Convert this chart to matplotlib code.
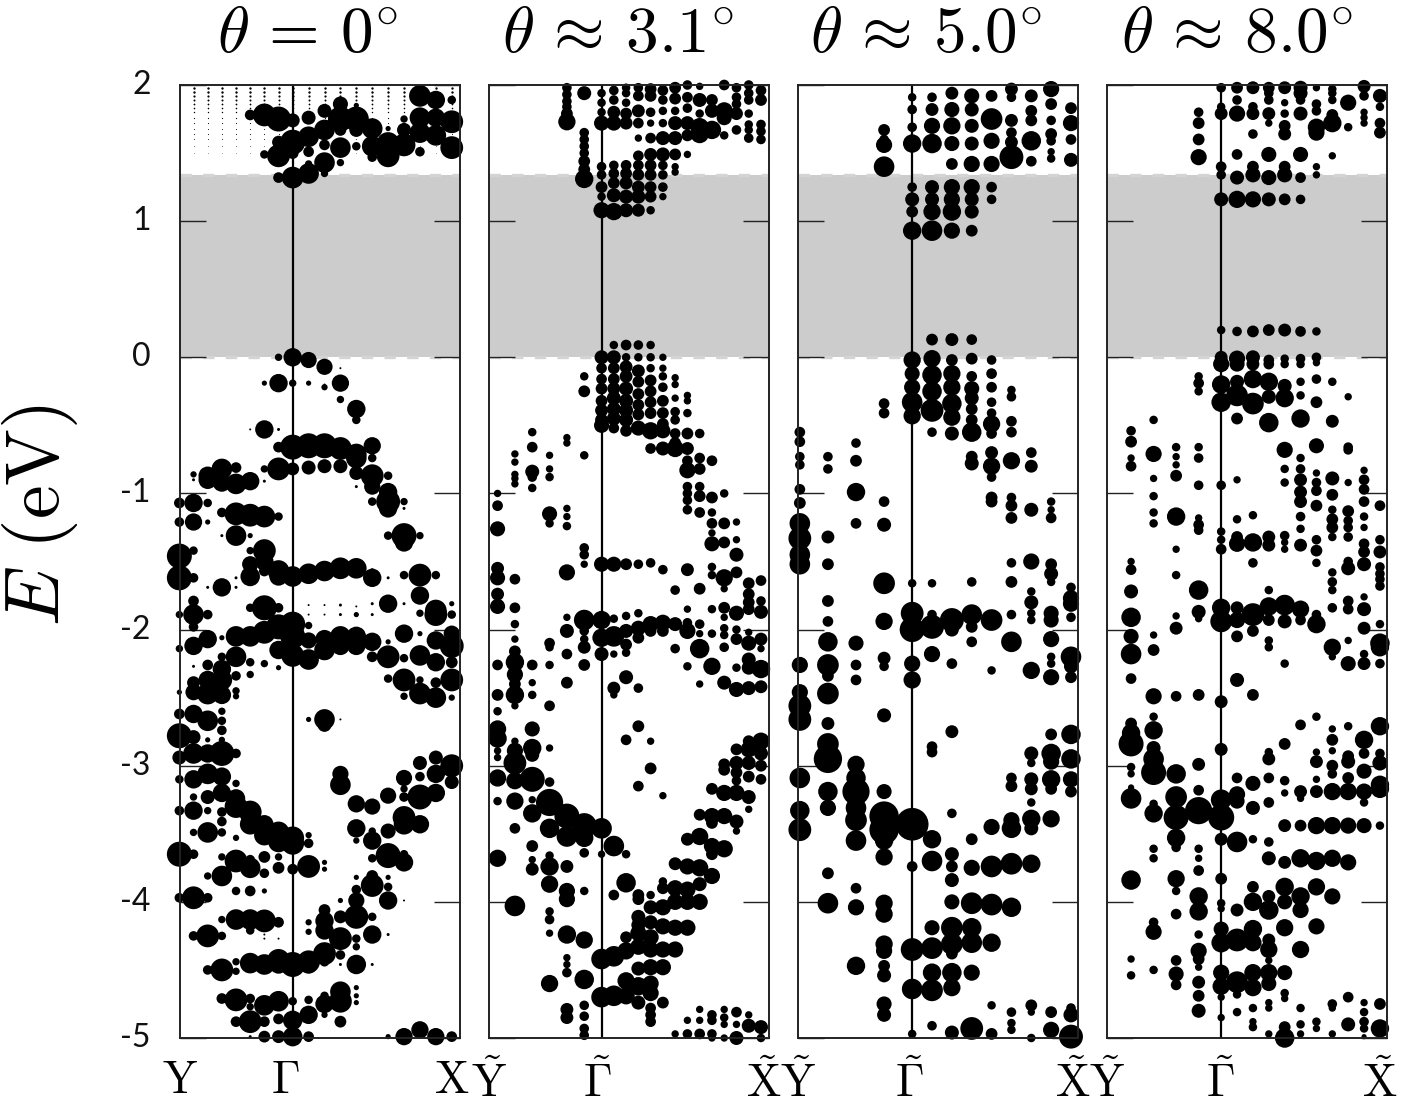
import numpy as np
import matplotlib
matplotlib.use("Agg")
import matplotlib.pyplot as plt

plt.rcParams['mathtext.fontset'] = 'cm'
plt.rcParams['font.family'] = ['Lato', 'DejaVu Sans']

# Each dot: k-point column, energy in eV, weight (dot radius)
panel1 = [
 (-3,1.78,4.5),(-2,1.78,10),(-1,1.75,11),(0,1.74,6),(-1,1.48,10),(-2,1.49,3.5),(-1,1.58,5.5),(0,1.58,11),(0,1.5,5),
 (1,1.62,9),(1,1.76,6),(1,1.51,4.5),(2,1.67,9),(2,1.81,6),(2,1.56,4.5),(3,1.86,6.5),(3,1.75,11),(3,1.54,9),(3,1.67,5),(3,1.43,3),
 (4,1.75,11),(4,1.55,3.5),(4,1.85,2),(4,1.67,6),(5,1.68,9),(5,1.55,9),(5,1.47,4),(6,1.57,10),(6,1.48,10),(6,1.68,2),
 (7,1.56,10),(7,1.75,3),(7,1.67,6),(8,1.92,9.5),(8,1.76,9),(8,1.65,9),(8,1.51,4),(9,1.89,8),(9,1.76,8),(9,1.63,9),
 (10,1.89,3.5),(10,1.73,10),(10,1.54,10),
 (-1,1.32,4.5),(0,1.32,9.5),(1,1.35,9),(1,1.42,3),(2,1.43,9),(2,1.35,3),
 (-1,0.0,3),(0,0.0,8),(1,-0.02,7),(2,-0.07,7),(3,-0.08,1),(-1,-0.19,8),(-2,-0.19,2),(0,-0.19,3),(1,-0.19,2),(2,-0.22,2.5),(2,-0.2,1),
 (3,-0.19,7.5),(3,-0.31,3),(4,-0.38,8),(4,-0.46,3.5),(-2,-0.53,8),(-1,-0.53,1.5),(-3,-0.53,1),
 (-1,-0.66,4.5),(0,-0.66,11),(1,-0.65,11),(2,-0.65,11),(3,-0.67,10),(4,-0.71,9),(4,-0.74,9),(5,-0.65,7.5),(5,-0.74,3.5),
 (-2,-0.82,3),(-1,-0.82,10),(0,-0.82,5.5),(1,-0.81,6),(2,-0.8,6),(3,-0.8,6),(4,-0.85,6),(4,-0.95,1.5),(5,-0.87,10),(5,-0.95,7),
 (6,-0.87,3.5),(6,-0.99,8),(6,-1.06,10.5),(6,-1.11,8),(5,-1.06,3.5),(7,-1.06,3),(7,-1.11,1.5),
 (-7,-0.86,2.5),(-7,-0.9,1.5),(-6,-0.87,8),(-6,-0.9,8),(-5,-0.82,9),(-5,-0.92,8),(-4,-0.81,4.5),(-4,-0.93,9),(-3,-0.91,8),(-2,-0.91,1.5),
 (-8,-1.07,4.5),(-7,-1.07,8),(-6,-1.07,3.5),(-8,-1.21,4),(-7,-1.21,7.5),(-6,-1.21,2),(-5,-1.14,4),(-4,-1.15,10),(-3,-1.16,10),(-2,-1.17,9.5),(-1,-1.17,3.5),
 (-4,-1.31,9),(-3,-1.31,2),(-5,-1.31,1.5),(6,-1.31,3.5),(7,-1.31,11),(7,-1.36,8),(8,-1.31,3),
 (-8,-1.62,11),(-8,-1.46,11),(-7,-1.62,4),(-7,-1.42,3.5),(-6,-1.69,1.5),(-5,-1.69,8),(-4,-1.62,1.5),(-4,-1.69,1.5),(-3,-1.61,8.5),(-3,-1.52,7),(-3,-1.42,3),
 (-2,-1.57,4.5),(-2,-1.5,8),(-2,-1.42,10),(-1,-1.57,9.5),(-1,-1.61,8),(0,-1.61,9),(1,-1.59,9),(2,-1.57,9),(3,-1.55,9.5),(4,-1.55,9),(5,-1.62,8),(6,-1.62,1.5),(5,-1.56,1.5),
 (6,-1.81,8),(5,-1.81,1.5),(7,-1.6,3.5),(7,-1.81,1.5),(8,-1.6,10),(8,-1.75,8),(9,-1.6,3.5),(9,-1.86,9.5),(9,-1.89,10),(10,-1.89,3.5),(10,-1.81,2),(8,-1.88,3),
 (-8,-1.89,3),(-7,-1.89,9),(-7,-1.79,4.5),(-6,-1.89,4),(-7,-1.98,4),(-3,-1.84,3.5),(-2,-1.84,11),(-1,-1.84,4),
 (1,-1.82,1),(2,-1.82,1),(3,-1.82,1.5),(4,-1.83,1),(5,-1.81,1),(3,-1.89,1.5),(4,-1.89,2),(5,-1.89,1.5),(2,-1.89,1),(1,-1.89,1),
 (-8,-2.14,3),(-7,-2.12,8),(-6,-2.07,8),(-5,-2.06,2),(-4,-2.05,9),(-3,-2.05,9),(-2,-2.02,10),(-1,-1.98,11),(0,-1.96,11),(0,-2.05,11),(-1,-2.15,8),(0,-2.19,10),
 (1,-1.97,3),(1,-2.08,7),(1,-2.22,9),(2,-2.07,8),(2,-2.15,9),(3,-2.05,9),(3,-2.12,8),(4,-2.05,8.5),(4,-2.12,8),(5,-2.09,8),(5,-2.2,4.5),(6,-2.2,10),(6,-2.09,2),
 (7,-2.03,8),(7,-2.21,3.5),(8,-2.03,2),(8,-2.19,9),(9,-2.08,8),(9,-2.24,8),(10,-2.12,10.5),(10,-2.03,7),(10,-2.24,5),(10,-2.37,10),(10,-2.5,2.5),
 (7,-2.37,10),(6,-2.36,3.5),(7,-2.49,3),(8,-2.47,9.5),(8,-2.37,3),(9,-2.5,9),(9,-2.39,4.5),
 (-6,-2.26,4.5),(-5,-2.2,3.5),(-5,-2.29,8),(-4,-2.2,9),(-4,-2.34,4),(-3,-2.24,3.5),(-3,-2.33,3),(-2,-2.25,3),(-1,-2.28,2),(-7,-2.27,1.5),(-5,-2.37,9),
 (-7,-2.39,5.5),(-7,-2.46,7),(-6,-2.37,8),(-6,-2.47,9.5),(-5,-2.48,8),(-4,-2.45,3),(-4,-2.49,2.5),(-8,-2.46,2),
 (-8,-2.62,4.5),(-7,-2.62,8),(-6,-2.67,9),(-5,-2.6,3),(-5,-2.67,3.5),(-5,-2.74,4),(-8,-2.78,11),(-7,-2.79,6),(-6,-2.81,2),(-5,-2.81,2.5),(-8,-2.94,6),(-7,-2.91,9),(-6,-2.91,8),(-5,-2.91,11),(-4,-2.91,4),
 (2,-2.66,9),(2,-2.7,6),(1,-2.66,2),(3,-2.66,1),
 (-8,-3.1,3.5),(-7,-3.1,8),(-6,-3.06,9),(-5,-3.08,8),(-6,-3.23,6),(-5,-3.2,8),(-4,-3.13,3),(-4,-3.24,8),(-4,-3.3,10),(-3,-3.34,10),(-3,-3.43,9),(-2,-3.43,8),(-2,-3.51,9),
 (-1,-3.49,9.5),(-1,-3.56,9),(0,-3.53,10),(0,-3.57,10),(-5,-3.34,4),(-5,-3.41,4),(-6,-3.33,3),(-7,-3.33,8),(-8,-3.33,4),(-7,-3.23,3),
 (-7,-3.49,3),(-6,-3.49,9),(-5,-3.49,3.5),(-4,-3.53,2.5),(-8,-3.65,11),(-7,-3.65,4),(-5,-3.67,3),(-4,-3.7,10),(-3,-3.75,9),(-3,-3.69,4),(-2,-3.67,5),(-2,-3.79,4),
 (-1,-3.67,3),(-1,-3.75,5),(0,-3.76,4.5),(1,-3.51,2.5),(1,-3.57,4),(1,-3.74,10),(2,-3.71,2),(2,-3.76,2),(-5,-3.81,9),(-6,-3.81,3),(-4,-3.92,3.5),(-3,-3.92,4.5),(-2,-3.92,2),
 (-8,-3.97,4),(-7,-3.97,10),(-6,-3.97,4),
 (3,-3.14,9),(3,-3.06,7),(4,-3.28,7.5),(5,-3.3,7),(6,-3.22,7),(7,-3.09,7),(8,-2.98,6),(9,-2.94,6),(10,-3.0,10),(10,-3.12,6),(9,-3.06,8),(9,-3.2,8),(8,-3.23,11),(8,-3.08,4),(7,-3.17,3),(7,-3.23,4),
 (7,-3.38,10),(8,-3.43,8),(6,-3.48,6.5),(7,-3.43,9),(4,-3.46,8),(4,-3.55,2.5),(5,-3.55,8),(5,-3.48,3),(5,-3.68,3.5),(6,-3.66,11),(7,-3.65,3.5),(7,-3.71,8),
 (5,-3.88,10),(5,-3.81,5),(4,-3.91,4),(4,-3.82,2),(6,-3.89,3.5),(6,-3.82,2),(6,-3.99,8),(4,-3.99,7),(3,-3.99,2),(7,-3.99,1),
 (-5,-4.13,3),(-4,-4.13,9),(-3,-4.13,9),(-2,-4.14,10),(-1,-4.15,4.5),(-3,-4.21,3.5),(1,-4.15,2.5),(1,-4.22,2.5),(2,-4.06,5),(2,-4.14,8),(2,-4.21,8),(3,-4.11,5.5),(3,-4.27,10),
 (4,-4.11,10.5),(4,-4.27,3.5),(4,-4.33,3),(5,-4.11,3.5),(5,-4.24,8),(6,-4.24,1.5),(-7,-4.25,4),(-6,-4.25,10),(-5,-4.25,3.5),(-2,-4.24,1),(-2,-4.27,1),(-1,-4.27,1),
 (-6,-4.5,4),(-5,-4.5,10),(-4,-4.44,3),(-4,-4.51,3),(-3,-4.45,9),(-2,-4.46,9),(-1,-4.43,10),(-1,-4.46,8),(0,-4.46,11),(1,-4.44,10),(1,-4.46,8),(2,-4.38,10),(2,-4.44,4),(3,-4.39,4),(4,-4.46,8.5),(3,-4.46,1.5),(5,-4.46,1.5),
 (-5,-4.71,4.5),(-4,-4.72,10),(-3,-4.71,4),(-3,-4.77,3),(-2,-4.76,9),(-1,-4.73,9),(0,-4.73,3.5),(1,-4.72,3.5),(1,-4.83,8),(2,-4.75,8),(2,-4.69,3.5),(3,-4.66,9),(3,-4.73,10),(3,-4.88,5),
 (4,-4.63,2),(4,-4.69,2),(4,-4.74,2),(2,-4.83,2.5),
 (-4,-4.88,4.5),(-3,-4.88,10),(-2,-4.88,4.5),(-1,-4.86,4.5),(0,-4.87,8.5),(0,-4.99,8.5),(-1,-4.99,5.5),(-2,-4.99,5),(1,-4.99,4.5),(-3,-4.99,1.5),(6,-4.99,2),(7,-4.99,7.5),(8,-4.94,7.5),(9,-4.99,7.5),(10,-4.99,4.5),
]
panel1_tiny_columns = [-7,-6,-5,-4,-3,-2,-1,0,1,2,3,4,5,6,7,8,9,10]
panel1_tiny_E = [1.98,1.95,1.92,1.89,1.86,1.83,1.8,1.76,1.72,1.68,1.64,1.6,1.55,1.5]
panel1_tiny_r = [1.2,1.2,1.1,1.0,0.9,0.8,0.7,0.6,0.55,0.5,0.45,0.4,0.3,0.25]

panel2 = {
 -6: [(-1.0,3),(-1.09,4.5),(-1.26,6.5),(-1.55,5.5),(-1.62,6.5),(-1.74,5.5),(-1.83,6.5),(-2.26,4.5),(-2.48,5),(-2.6,3.5),(-2.73,7.5),(-2.8,8),(-2.89,3),(-2.94,3),(-3.09,7.5),(-3.26,3.5),(-3.68,7.5)],
 -5: [(-0.71,3),(-0.77,3),(-0.86,3),(-0.89,3),(-0.93,3),(-1.63,4.5),(-1.84,4.5),(-1.96,3.5),(-2.07,3),(-2.16,5),(-2.24,8),(-2.33,7),(-2.4,5),(-2.48,8),(-2.56,3),(-2.82,3),(-2.89,7),(-2.98,10),(-3.11,7.5),(-3.26,7.5),(-3.46,4.5),(-4.03,9)],
 -4: [(-0.55,3.5),(-0.66,4.5),(-0.84,6),(-0.88,4),(-0.96,3.5),(-2.26,4.5),(-2.39,3),(-2.48,3.5),(-2.73,6.5),(-2.87,8),(-2.92,6),(-3.1,11),(-3.25,3),(-3.35,8),(-3.59,5),(-3.69,3),(-3.76,5.5)],
 -3: [(-0.72,3),(-0.82,3),(-0.88,3.5),(-1.15,6.5),(-1.22,3.5),(-2.1,4.5),(-2.13,3.5),(-2.26,3.5),(-2.56,4.5),(-2.87,3),(-3.12,4),(-3.27,12),(-3.46,8.5),(-3.66,3.5),(-3.74,8),(-3.87,7.5),(-4.07,3.5),(-4.13,4),(-4.23,3),(-4.6,7.5)],
 -2: [(1.98,4),(1.93,4),(1.88,4),(1.84,4),(1.79,5),(1.73,7.5),(-0.59,3),(-0.63,3),(-1.11,3),(-1.17,3),(-1.24,3.5),(-1.58,7),(-1.91,3),(-2.01,6),(-2.18,4.5),(-2.39,5),(-3.37,11),(-3.52,9),(-3.74,5.5),(-3.92,7),(-3.98,7),(-4.24,8),(-4.41,3),(-4.46,3),(-4.52,4),(-4.79,5.5),(-4.85,5.5)],
 -1: [(1.94,6),(1.65,4),(1.6,4),(1.55,4),(1.5,4),(1.44,5),(1.38,5),(1.31,8),(-0.14,3.5),(-0.25,5),(-0.72,3.5),(-1.4,4),(-1.45,4),(-1.52,3),(-1.93,9),(-2.01,4),(-2.07,3.5),(-2.13,5.5),(-2.26,5),(-3.44,11),(-3.53,8),(-3.64,4),(-3.92,3.5),(-4.28,7.5),(-4.57,8.5),(-4.76,4),(-4.84,4),(-4.93,4),(-4.98,4)],
 0: [(1.94,3.5),(1.87,3.5),(1.8,3.5),(1.72,6.5),(1.4,4),(1.34,4),(1.25,5),(1.18,3.5),(1.08,7),(0,6),(-0.08,4.5),(-0.16,4.5),(-0.23,5),(-0.32,5),(-0.39,5.5),(-0.46,5.5),(-0.5,6.5),(-1.52,6.5),(-1.93,8),(-2.06,8),(-2.18,6),(-3.46,9),(-3.65,3),(-4.42,9),(-4.7,9)],
 1: [(1.96,4),(1.89,4),(1.8,5.5),(1.72,6.5),(1.41,4),(1.35,4.5),(1.28,5),(1.19,6),(1.07,7.5),(0.09,3.5),(0,6),(-0.08,5),(-0.16,5),(-0.23,5.5),(-0.3,6),(-0.38,6),(-0.45,6),(-0.52,4.5),(-1.52,6.5),(-1.92,3.5),(-2.05,9),(-2.18,3),(-2.43,5.5),(-2.48,3),(-3.59,9),(-3.95,4.5),(-4.4,9),(-4.69,9)],
 2: [(1.98,3.5),(1.94,3.5),(1.87,3.5),(1.79,5),(1.72,5.5),(1.41,4.5),(1.35,5),(1.28,5.5),(1.18,6),(1.08,6),(0.09,4.5),(0,3.5),(-0.07,5.5),(-0.14,5.5),(-0.23,6),(-0.32,6),(-0.39,6),(-0.46,6),(-0.54,5),(-1.52,5),(-1.9,3.5),(-2.01,6),(-2.11,5),(-2.17,3.5),(-2.35,6),(-2.81,4.5),(-3.65,3.5),(-3.86,8.5),(-4.26,5),(-4.36,7.5),(-4.58,7.5),(-4.69,7.5)],
 3: [(1.98,4),(1.92,4.5),(1.81,5.5),(1.72,4.5),(1.61,3),(1.48,4.5),(1.41,4.5),(1.34,5),(1.25,5.5),(1.18,6),(1.08,5.5),(0.09,4),(0,3.5),(-0.1,5.5),(-0.18,5),(-0.27,5),(-0.35,5),(-0.42,5),(-0.52,6.5),(-1.52,4),(-1.88,3.5),(-1.99,6.5),(-2.06,5),(-2.43,4),(-2.71,5),(-3.15,4.5),(-3.95,5),(-3.98,5),(-4.11,6),(-4.17,6),(-4.23,7),(-4.33,7),(-4.49,6),(-4.62,8),(-4.74,6)],
 4: [(1.97,5),(1.92,5),(1.8,4),(1.72,3),(1.61,4.5),(1.49,5.5),(1.41,5),(1.34,5),(1.25,5),(1.18,5),(1.08,3.5),(0.09,3.5),(0,3.5),(-0.08,3.5),(-0.17,5),(-0.25,5),(-0.33,5),(-0.41,5),(-0.54,7.5),(-0.67,4.5),(-1.51,4),(-1.96,7),(-2.01,5),(-2.82,3),(-3.02,5),(-3.95,3.5),(-4.04,6),(-4.15,6),(-4.26,7),(-4.35,7),(-4.48,7),(-4.6,7),(-4.67,7),(-4.78,4.5),(-4.83,4.5),(-4.88,4.5)],
 5: [(1.96,4.5),(1.89,4),(1.81,3.5),(1.72,3.5),(1.61,6),(1.49,6),(1.41,4),(1.34,4),(1.25,4),(1.18,3),(0,3),(-0.08,3),(-0.14,3.5),(-0.22,4),(-0.32,5),(-0.41,5),(-0.49,5),(-0.54,6.5),(-0.67,6),(-1.56,4),(-1.95,7),(-2.01,5),(-3.22,3),(-3.85,3.5),(-3.9,5),(-4.04,7),(-4.18,7),(-4.35,7),(-4.48,7),(-4.74,5)],
 6: [(1.98,5),(1.9,5),(1.81,3.5),(1.72,6),(1.61,6),(1.49,5),(1.4,3),(1.36,3),(-0.15,3),(-0.2,3),(-0.3,3),(-0.4,4),(-0.46,4),(-0.56,4.5),(-0.63,5),(-0.67,7.5),(-1.71,4),(-1.96,6),(-2.14,4),(-3.72,5.5),(-3.9,7),(-4,7),(-4.19,7),(-4.35,7),(-4.97,3)],
 7: [(2.0,4),(1.91,4.5),(1.83,4),(1.72,6),(1.63,5),(1.49,3),(-0.28,3),(-0.32,3),(-0.41,3.5),(-0.56,5),(-0.67,5.5),(-0.76,4.5),(-0.83,7),(-0.95,4),(-1.0,4),(-1.05,4),(-1.12,4),(-1.56,5.5),(-1.85,3),(-1.95,4),(-2.01,7),(-2.27,3.5),(-3.54,5.5),(-3.74,7),(-3.91,7),(-4,7),(-4.19,7),(-4.87,3),(-4.97,4)],
 8: [(1.99,3),(1.89,6),(1.79,3.5),(1.69,8),(1.64,8),(-0.56,4),(-0.74,4.5),(-0.82,5),(-0.95,4),(-1.02,5),(-1.14,4.5),(-1.7,5),(-1.96,4),(-2.03,3),(-2.14,8.5),(-2.4,3),(-3.36,5),(-3.52,7.5),(-3.75,7.5),(-3.87,6),(-4,7),(-4.79,3),(-4.87,3),(-4.97,4.5)],
 9: [(1.89,5),(1.81,6),(1.67,8),(-0.76,4.5),(-1.03,5),(-1.14,3.5),(-1.22,4.5),(-1.37,6.5),(-1.29,3),(-1.54,3.5),(-1.6,3.5),(-1.85,3.5),(-2.03,3.5),(-2.27,7.5),(-3.17,5),(-3.37,7),(-3.42,5),(-3.59,7),(-3.65,5),(-3.81,7),(-4.83,4),(-4.87,4),(-4.97,4),(-5,3)],
 10: [(2.0,4.5),(1.81,7.5),(1.76,6.5),(1.63,3.5),(-1.0,3.5),(-1.22,5),(-1.36,5),(-1.62,7.5),(-1.7,3),(-1.84,5),(-1.91,3),(-1.99,3.5),(-2.04,3.5),(-2.13,4),(-2.39,6),(-2.99,5),(-3.03,5),(-3.2,7),(-3.37,7),(-3.61,7.5),(-4.79,3),(-4.85,3.5),(-4.9,3),(-5,3)],
 11: [(1.98,4),(1.91,4),(1.86,4),(1.79,5.5),(1.67,4),(-1.21,3),(-1.34,3),(-1.45,6),(-1.58,5),(-1.88,6.5),(-2.0,3.5),(-2.07,5),(-2.28,3.5),(-2.44,6.5),(-2.88,5),(-2.98,6),(-3.05,5),(-3.11,4),(-3.2,7),(-3.41,6),(-3.48,3),(-4.81,4.5),(-4.9,3),(-5,6)],
 12: [(2.0,4),(1.94,4),(1.89,4),(1.79,3.5),(1.71,3.5),(1.67,3.5),(1.61,4),(-1.66,5),(-1.74,5),(-1.8,5),(-1.85,5),(-2.02,3),(-2.1,6.5),(-2.22,6),(-2.28,6),(-2.43,6),(-2.82,5),(-2.88,7),(-2.98,6),(-3.08,5),(-3.23,6),(-3.32,3),(-4.83,3),(-4.91,6)],
 13: [(1.96,4.5),(1.89,5),(1.71,4),(1.66,4),(1.6,4),(-1.64,4.5),(-1.79,4),(-1.87,6),(-2.07,5.5),(-2.14,3),(-2.29,8),(-2.42,5.5),(-2.82,7.5),(-2.91,6),(-3.0,5),(-3.1,4.5),(-4.92,6),(-5,3.5)],
}

panel3 = {
 -4: [(-0.55,4.5),(-0.62,4.5),(-0.73,4),(-0.79,4),(-0.97,4.5),(-1.07,5),(-1.22,9),(-1.33,10),(-1.45,9),(-1.52,9),(-2.26,7),(-2.46,7),(-2.56,10),(-2.66,10),(-3.09,9),(-3.33,8.5),(-3.47,10)],
 -3: [(-0.73,4),(-0.82,4),(-1.32,5.5),(-1.52,5),(-1.79,5),(-1.94,4.5),(-2.09,8.5),(-2.26,9.5),(-2.34,5),(-2.47,9.5),(-2.69,5.5),(-2.84,9.5),(-2.95,12.5),(-3.19,8.5),(-3.31,7),(-3.79,5),(-4.01,9)],
 -2: [(-0.63,4),(-0.76,5),(-0.99,8),(-1.22,4.5),(-2.1,6.5),(-2.26,4.5),(-2.37,4.5),(-2.99,7.5),(-3.09,8.5),(-3.19,12),(-3.31,9),(-3.4,9.5),(-3.55,9),(-3.9,4.5),(-4.04,7),(-4.47,8)],
 -1: [(1.67,5),(1.6,4),(1.56,7),(1.4,9),(-0.34,4.5),(-0.41,4.5),(-1.06,4.5),(-1.23,6),(-1.66,9.5),(-1.94,7.5),(-2.21,5.5),(-2.27,4),(-2.63,6),(-3.19,6.5),(-3.37,13),(-3.47,13),(-3.55,8),(-3.67,7.5),(-4.01,7.5),(-4.09,7.5),(-4.31,7.5),(-4.36,7),(-4.47,5),(-4.54,6),(-4.75,6.5),(-4.83,6)],
 0: [(1.91,3.5),(1.82,4),(1.69,4),(1.57,8),(1.25,4),(1.16,6),(1.07,5),(0.93,8),(-0.02,7.5),(-0.12,6.5),(-0.22,7),(-0.33,9),(-0.43,7.5),(-1.66,3.5),(-1.88,10),(-2.0,11),(-2.25,7),(-2.37,7.5),(-3.43,14.5),(-3.74,4.5),(-4.35,10),(-4.64,9),(-4.97,3.5)],
 1: [(1.91,4),(1.82,5.5),(1.7,7),(1.57,8.5),(1.25,6),(1.16,6),(1.07,7.5),(0.93,9),(0.13,5),(-0.01,7.5),(-0.13,8.5),(-0.25,8.5),(-0.39,10),(-0.55,4),(-1.66,3.5),(-1.89,4),(-1.98,10.5),(-2.18,7),(-2.86,4.5),(-2.9,4.5),(-3.54,8),(-3.7,9),(-4.19,6.5),(-4.34,9.5),(-4.52,8),(-4.65,9.5),(-4.91,4)],
 2: [(1.94,5.5),(1.82,6.5),(1.7,7.5),(1.57,6.5),(1.42,5),(1.25,7),(1.16,7),(1.07,8),(0.93,7),(0.13,5.5),(-0.02,5),(-0.12,7.5),(-0.22,7.5),(-0.34,8.5),(-0.44,7.5),(-0.56,6),(-1.93,10.5),(-2.0,6),(-2.25,4.5),(-2.75,5.5),(-3.35,4),(-3.65,6),(-3.74,5),(-3.84,6),(-4.0,6.5),(-4.19,9.5),(-4.31,9.5),(-4.38,5),(-4.52,8.5),(-4.63,7.5),(-4.96,6)],
 3: [(1.92,6.5),(1.82,6),(1.7,6),(1.57,6),(1.42,7),(1.25,7),(1.16,6),(1.07,6),(0.93,5),(0.13,4.5),(-0.01,5),(-0.14,4.5),(-0.23,6.5),(-0.3,6),(-0.38,5),(-0.46,5),(-0.55,8.5),(-0.73,5),(-0.78,6),(-1.65,4),(-1.89,9),(-1.98,5),(-2.09,4.5),(-3.54,5),(-3.75,7),(-4.01,9.5),(-4.19,8.5),(-4.3,9),(-4.52,7),(-4.93,10)],
 4: [(1.92,5),(1.75,9.5),(1.59,7),(1.42,7),(1.25,4.5),(1.16,4),(-0.02,4),(-0.12,4.5),(-0.22,4.5),(-0.33,4),(-0.41,4),(-0.49,7.5),(-0.56,4.5),(-0.7,5.5),(-0.8,7.5),(-0.88,4),(-1.03,5),(-1.06,5),(-1.93,9.5),(-2.3,3.5),(-3.45,7),(-3.74,9.5),(-4.02,9.5),(-4.3,8),(-4.76,3.5),(-4.97,5)],
 5: [(1.97,5.5),(1.91,4),(1.74,5.5),(1.65,4.5),(1.58,5.5),(1.47,10.5),(-0.24,3.5),(-0.29,4),(-0.47,4.5),(-0.55,4.5),(-0.76,7.5),(-1.03,4),(-1.09,5),(-1.18,5),(-1.51,4),(-1.65,5),(-1.89,4),(-2.09,9),(-3.09,4.5),(-3.15,5),(-3.4,7),(-3.46,8.5),(-3.72,9.5),(-4.04,8.5),(-4.81,4),(-4.89,3.5),(-4.94,3.5)],
 6: [(1.92,5.5),(1.81,5),(1.74,5),(1.59,8.5),(1.44,4.5),(-0.7,4.5),(-0.8,5.5),(-1.12,6),(-1.5,7),(-1.72,3.5),(-1.8,6),(-1.88,3.5),(-1.93,3.5),(-2.3,7.5),(-2.91,6),(-2.98,3.5),(-3.1,6),(-3.17,5.5),(-3.27,3.5),(-3.39,8),(-3.46,6),(-3.72,8),(-4.76,5),(-4.81,3),(-5,3.5)],
 7: [(1.97,7),(1.86,5),(1.74,4),(1.64,5),(1.59,4),(1.51,3),(1.46,3.5),(-1.06,3.5),(-1.12,3),(-1.18,4.5),(-1.52,5),(-1.59,6),(-1.65,3.5),(-1.88,6.5),(-1.93,6.5),(-2.07,7),(-2.2,3.5),(-2.25,3.5),(-2.35,7),(-2.77,5),(-2.91,8.5),(-2.97,7),(-3.1,8),(-3.17,5),(-3.39,7.5),(-4.81,5),(-4.94,7)],
 8: [(1.83,5),(1.72,7),(1.6,4.5),(1.45,6),(-1.69,4),(-1.77,7),(-1.81,7),(-1.91,4),(-2.2,9),(-2.27,6),(-2.35,5),(-2.77,8.5),(-2.95,8.5),(-3.1,7),(-3.19,5),(-4.78,4),(-4.83,6.5),(-4.99,10.5)],
}

panel4 = {
 -4: [(-0.54,4),(-0.62,5),(-0.74,3),(-0.8,4.5),(-1.5,3),(-1.56,4.5),(-1.72,6),(-1.91,8.5),(-2.05,6.5),(-2.18,9),(-2.36,4.5),(-2.69,5),(-2.76,8),(-2.84,11),(-3.01,3.5),(-3.06,3),(-3.16,2.5),(-3.24,9),(-3.84,8.5),(-4.42,3),(-4.54,3.5)],
 -3: [(-0.46,3.5),(-0.71,7),(-0.89,3),(-1.02,3.5),(-1.14,3.5),(-1.22,3.5),(-2.04,3),(-2.15,5),(-2.49,7),(-2.64,3.5),(-2.74,8),(-2.87,6),(-2.95,9),(-3.05,11),(-3.28,3.5),(-3.35,8),(-3.61,3.5),(-3.68,3.5),(-4.15,4),(-4.22,7),(-4.5,3.5)],
 -2: [(-0.66,3.5),(-0.73,3),(-0.79,3),(-0.87,5),(-1.17,8),(-1.41,3),(-1.6,3.5),(-1.9,3),(-1.99,5.5),(-2.49,4.5),(-3.06,8.5),(-3.23,9.5),(-3.38,11),(-3.53,8),(-3.6,4),(-3.83,7.5),(-3.92,3.5),(-4.09,4.5),(-4.43,4.5),(-4.53,6.5),(-4.61,4.5)],
 -1: [(1.8,4),(1.72,5),(1.6,5),(1.47,7),(-0.14,3.5),(-0.19,4.5),(-0.25,3.5),(-0.66,3.5),(-0.74,4),(-0.94,4),(-1.18,3),(-1.23,4.5),(-1.27,4),(-1.71,8.5),(-1.87,6),(-1.92,3),(-2.48,5),(-2.99,5.5),(-3.18,4.5),(-3.33,12),(-3.61,3.5),(-3.68,3),(-3.77,4.5),(-3.96,8),(-4.07,8),(-4.24,3.5),(-4.36,7),(-4.42,5),(-4.48,3),(-4.59,5.5),(-4.69,5),(-4.8,6)],
 0: [(1.98,4),(1.84,3.5),(1.79,5.5),(1.4,4.5),(1.34,4),(1.16,6),(0.2,3.5),(0,5.5),(-0.05,7),(-0.2,8),(-0.33,8.5),(-0.94,4),(-1.28,3.5),(-1.34,3.5),(-1.41,4.5),(-1.84,8),(-1.94,9.5),(-2.53,5.5),(-2.88,5.5),(-3.25,9),(-3.38,11.5),(-3.54,5.5),(-3.83,5),(-4.01,3.5),(-4.05,3),(-4.2,6.5),(-4.3,8.5),(-4.52,7),(-4.62,7.5),(-4.7,3),(-4.85,3)],
 1: [(1.98,5),(1.89,4),(1.79,7),(1.49,4.5),(1.32,6),(1.16,7.5),(0.19,4),(-0.01,7),(-0.05,6.5),(-0.18,6),(-0.28,9.5),(-0.45,5),(-0.9,3),(-1.19,3.5),(-1.32,5),(-1.37,7),(-1.84,5.5),(-1.93,7),(-2.05,5),(-2.37,6),(-3.09,4.5),(-3.21,7),(-3.26,6.5),(-3.56,9),(-4.06,5.5),(-4.28,10),(-4.59,9.5),(-4.68,3.5),(-4.81,3.5)],
 2: [(1.98,5.5),(1.84,4),(1.79,5.5),(1.64,4),(1.4,5),(1.34,6.5),(1.16,7),(0.19,5),(0,6),(-0.05,5.5),(-0.16,8),(-0.34,9.5),(-1.16,3.5),(-1.36,8),(-1.51,4),(-1.89,10),(-2.01,5),(-2.48,5),(-3.13,6.5),(-3.31,6),(-3.54,3.5),(-3.89,5),(-4.0,8),(-4.2,8),(-4.3,7.5),(-4.52,7.5),(-4.63,7.5),(-4.78,3.5),(-4.88,3),(-4.92,3.5)],
 3: [(1.98,5),(1.94,4),(1.89,4),(1.79,5.5),(1.72,3),(1.49,6.5),(1.32,6.5),(1.16,6),(0.2,5),(-0.02,4.5),(-0.05,4.5),(-0.18,8),(-0.29,6),(-0.48,8.5),(-1.32,5.5),(-1.38,5.5),(-1.71,3.5),(-1.83,8),(-1.93,5),(-2.08,3.5),(-2.13,3.5),(-2.9,3.5),(-2.95,5.5),(-3.09,4.5),(-3.27,4.5),(-3.56,4),(-3.68,6),(-3.96,5.5),(-4.06,8.5),(-4.28,5.5),(-4.35,7.5),(-4.43,3),(-4.52,7.5),(-4.6,6.5),(-4.74,3),(-4.78,3),(-4.97,3)],
 4: [(1.98,5.5),(1.87,3),(1.79,3.5),(1.7,5),(1.64,5.5),(1.4,5),(1.34,6.5),(1.16,5),(0.2,5.5),(-0.01,3.5),(-0.05,3.5),(-0.21,6),(-0.3,8),(-0.68,7),(-0.82,3.5),(-0.92,3.5),(-1.31,4),(-1.36,3),(-1.41,3),(-1.82,9),(-1.94,6),(-2.25,3.5),(-2.84,5),(-3.11,4),(-3.2,3),(-3.44,5.5),(-3.71,5.5),(-3.89,8),(-4.0,6.5),(-4.19,7.5),(-4.52,6.5),(-4.67,3.5),(-4.71,3),(-4.92,5),(-5,8.5)],
 5: [(1.98,6),(1.94,6),(1.89,4),(1.79,6),(1.49,6.5),(1.32,4.5),(1.16,4),(0.19,4.5),(-0.01,4),(-0.05,3.5),(-0.18,3.5),(-0.28,3.5),(-0.45,8),(-0.74,3.5),(-0.82,4),(-0.9,5.5),(-0.99,5.5),(-1.06,5.5),(-1.17,4),(-1.26,3.5),(-1.38,5.5),(-1.85,7.5),(-1.93,4.5),(-2.7,4.5),(-3.19,5.5),(-3.24,3),(-3.44,5),(-3.68,8),(-3.96,8),(-4.06,7),(-4.35,7.5),(-4.78,3.5),(-4.9,3.5),(-4.97,3)],
 6: [(1.98,3),(1.86,4),(1.81,4),(1.69,7.5),(1.65,7),(1.4,3),(1.34,3),(0.19,3.5),(0,4),(-0.04,3),(-0.16,4),(-0.33,5),(-0.65,6.5),(-0.85,3),(-0.92,4),(-0.98,4.5),(-1.09,5),(-1.34,4),(-1.42,5),(-1.51,3.5),(-1.89,4),(-1.96,8),(-2.64,3.5),(-2.9,3),(-2.97,5.5),(-3.1,3),(-3.19,5.5),(-3.44,7.5),(-3.7,8),(-3.89,7.5),(-4.18,7),(-4.88,3.5),(-4.93,3)],
 7: [(1.97,3.5),(1.94,3.5),(1.89,3.5),(1.78,5),(1.72,8),(1.48,3),(-0.18,3.5),(-0.47,5.5),(-0.89,6),(-1.01,5),(-1.12,3.5),(-1.19,5),(-1.25,5),(-1.32,3.5),(-1.58,3.5),(-1.65,4),(-1.71,3.5),(-1.84,4),(-2.13,7.5),(-2.2,3),(-2.73,3),(-2.81,5),(-2.89,3),(-3.0,5),(-3.06,4),(-3.19,7.5),(-3.44,7.5),(-3.68,7.5),(-3.96,7),(-4.75,4),(-4.78,3),(-4.97,3)],
 8: [(1.87,7),(1.69,3.5),(-0.29,3),(-0.66,4),(-0.68,4),(-0.92,3),(-1.13,5),(-1.2,4),(-1.25,4),(-1.32,4),(-1.5,4),(-1.55,6),(-1.79,4.5),(-1.85,4.5),(-2.08,3),(-2.25,6.5),(-2.71,3.5),(-2.93,5),(-2.97,6),(-3.09,5),(-3.19,7.5),(-3.44,7),(-3.71,7),(-4.7,4.5),(-4.9,6)],
 9: [(1.99,5.5),(1.92,4),(1.8,3),(1.76,3),(1.72,3),(-0.83,3),(-0.9,4.5),(-0.97,4.5),(-1.06,4.5),(-1.17,3.5),(-1.25,3),(-1.37,4.5),(-1.43,5),(-1.52,6),(-1.76,3),(-1.85,6),(-1.99,5.5),(-2.18,3.5),(-2.25,5.5),(-2.81,8),(-2.91,4.5),(-3.04,6.5),(-3.19,7),(-3.27,3.5),(-3.44,6.5),(-4.74,3),(-4.81,3.5),(-4.88,4),(-4.93,3.5),(-4.99,2)],
 10: [(1.92,6),(1.84,3.5),(1.72,4.5),(1.65,5),(-1.09,4.5),(-1.34,4),(-1.43,5.5),(-1.54,4),(-1.59,4),(-1.63,4),(-1.68,4),(-1.96,3.5),(-2.1,8.5),(-2.13,8),(-2.25,4),(-2.71,8),(-2.91,4),(-2.98,6.5),(-3.14,8),(-3.17,8),(-3.44,3.5),(-4.75,5),(-4.93,8)],
}

titles = [r'$\theta\,=\,0^{\circ}$', r'$\theta\,\approx\,3.1^{\circ}$', r'$\theta\,\approx\,5.0^{\circ}$', r'$\theta\,\approx\,8.0^{\circ}$']
title_centres = [308, 618, 926, 1237]
x_labels = [[r'$\mathrm{Y}$', r'$\Gamma$', r'$\mathrm{X}$'],
            [r'$\tilde{\mathrm{Y}}$', r'$\tilde{\Gamma}$', r'$\tilde{\mathrm{X}}$'],
            [r'$\tilde{\mathrm{Y}}$', r'$\tilde{\Gamma}$', r'$\tilde{\mathrm{X}}$'],
            [r'$\tilde{\mathrm{Y}}$', r'$\tilde{\Gamma}$', r'$\tilde{\mathrm{X}}$']]
x_label_pos = [[0.0, 0.375, 0.971], [0.0, 0.386, 0.982], [-0.007, 0.393, 0.98], [-0.007, 0.4, 0.975]]
panel_left = [180, 489, 798, 1107]
gamma_pos = [0.4025, 0.402, 0.4036, 0.4036]
step_left = [0.0506, 0.0619, 0.101, 0.081]
step_right = [0.0568, 0.0438, 0.0714, 0.0571]
y_ticks = [2, 1, 0, -1, -2, -3, -4, -5]
gap_top = 1.34
gap_bottom = 0.0

W, H = 1405, 1102
DPI = 100
fig = plt.figure(figsize=(W / DPI, H / DPI), dpi=DPI, facecolor='white')


def flatten(panel):
    if isinstance(panel, dict):
        return [(k, e, r) for k, pts in panel.items() for e, r in pts]
    return panel


panels = [flatten(panel1), flatten(panel2), flatten(panel3), flatten(panel4)]

for i, pts in enumerate(panels):
    ax = fig.add_axes([panel_left[i] / W, 1 - 1038 / H, 280 / W, 953 / H])
    ax.set_xlim(0, 1)
    ax.set_ylim(-5, 2)
    ax.axhspan(gap_bottom, gap_top, color='#cccccc', lw=0, zorder=1)
    for level in (gap_bottom, gap_top):
        ax.axhline(level, color='#d4d4d4', lw=2.4, dashes=(3.4, 3.4), zorder=1.5)
    ax.axvline(gamma_pos[i], color='black', lw=1.6, zorder=2)

    k = np.array([p[0] for p in pts], dtype=float)
    e = np.array([p[1] for p in pts], dtype=float)
    r = np.array([p[2] for p in pts], dtype=float)
    r = np.where(r >= 2, r * 1.1 + 0.4, r)
    x = gamma_pos[i] + k * np.where(k < 0, step_left[i], step_right[i])
    ax.scatter(x, e, s=(2 * r * 72 / DPI) ** 2, c='black', linewidths=0, zorder=3, clip_on=False)

    if i == 0:
        tk = np.array(panel1_tiny_columns, dtype=float)
        tx = gamma_pos[0] + tk * np.where(tk < 0, step_left[0], step_right[0])
        for te, tr in zip(panel1_tiny_E, panel1_tiny_r):
            ax.scatter(tx, np.full_like(tx, te), s=(2 * tr * 72 / DPI) ** 2, c='black', linewidths=0, zorder=2.5)

    for sp in ax.spines.values():
        sp.set_color('#222222')
        sp.set_linewidth(1.4)
        sp.set_zorder(4)
    ax.set_yticks(y_ticks)
    ax.tick_params(axis='y', direction='in', length=19, width=1.0, left=True, right=True, color='#222222', pad=21)
    if i == 0:
        ax.set_yticklabels([str(v) for v in y_ticks], fontsize=23, color='#111111', va='center')
        for lbl in ax.get_yticklabels():
            lbl.set_y(lbl.get_position()[1])
    else:
        ax.set_yticklabels([])
    ax.set_xticks(x_label_pos[i])
    ax.set_xticklabels(x_labels[i], fontsize=33)
    ax.tick_params(axis='x', length=0, pad=15)
    fig.text(title_centres[i] / W, 1 - 52 / H, titles[i], fontsize=47, ha='center', va='baseline')

fig.text(40 / W, 1 - 515 / H, r'$E\ (\mathrm{eV})$', fontsize=54.5, rotation=90, ha='center', va='center')
fig.savefig('out.png', dpi=DPI, facecolor='white')
